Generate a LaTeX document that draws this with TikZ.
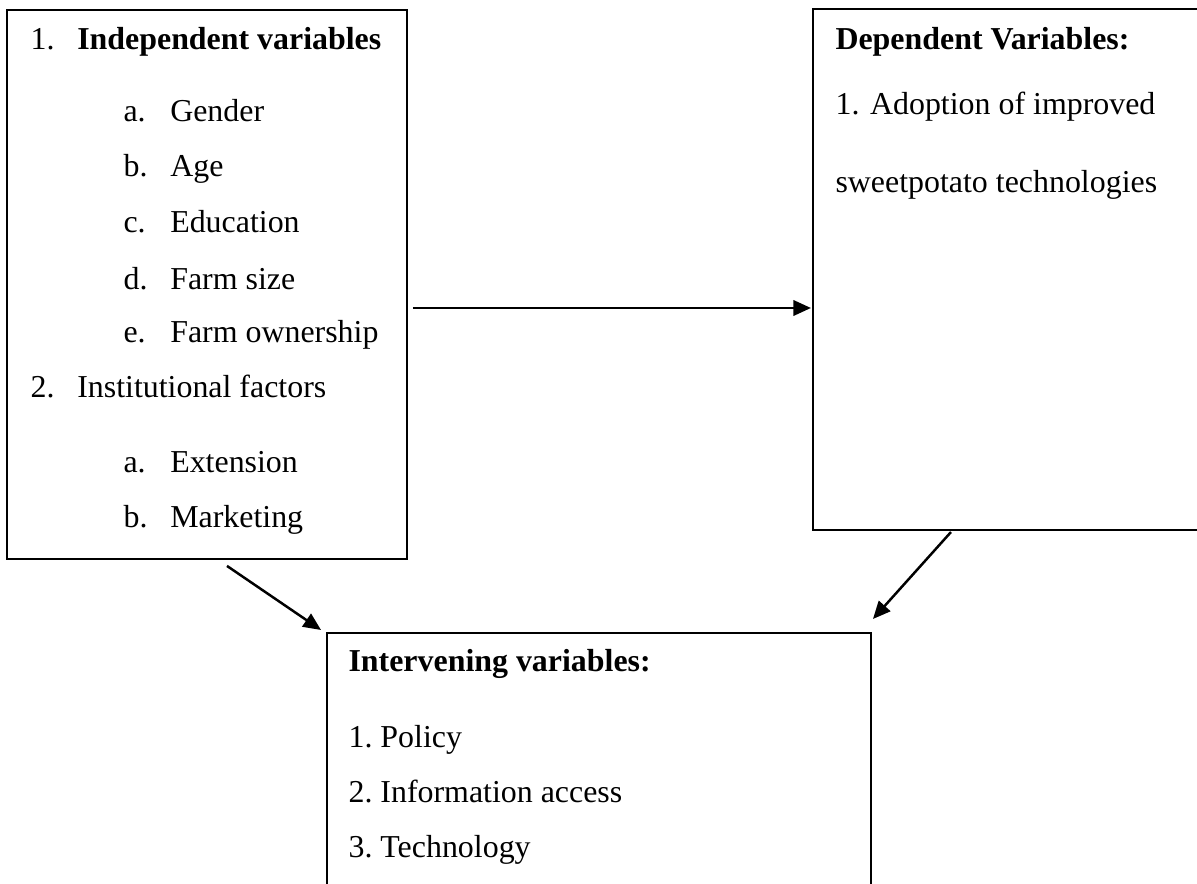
\documentclass[tikz,border=0pt]{standalone}
\usepackage{fontspec}
\setmainfont{Liberation Serif}
\usetikzlibrary{arrows.meta}

\newcommand\itemlbl[1]{\makebox[17pt][l]{#1}}

\begin{document}
\begin{tikzpicture}[x=0.3636pt,y=-0.3636pt,
  varbox/.style={draw,line width=0.7pt,rectangle,inner sep=0pt},
  item/.style={anchor=base west,inner sep=0pt,font=\fontsize{11.6}{14}\selectfont},
  arr/.style={-{Triangle[length=6.4pt,width=5.6pt]},line width=0.9pt}
]
  \useasboundingbox (0,0) rectangle (1197,884);

  % Boxes
  \node[varbox,minimum width=145.45pt,minimum height=199.6pt] (indep)  at (207,284.5) {};
  \node[varbox,minimum width=144.4pt,minimum height=189.5pt]  (dep)    at (1011.5,269.5) {};
  \node[varbox,minimum width=197.8pt,minimum height=97.1pt]   (interv) at (599,766.5) {};

  % Independent variables
  \node[item] (iv)   at (30,50)   {\itemlbl{1.}\textbf{Independent variables}};
  \node[item] (iva)  at (123,122) {\itemlbl{a.}Gender};
  \node[item] (ivb)  at (123,177) {\itemlbl{b.}Age};
  \node[item] (ivc)  at (123,233) {\itemlbl{c.}Education};
  \node[item] (ivd)  at (123,290) {\itemlbl{d.}Farm size};
  \node[item] (ive)  at (123,343) {\itemlbl{e.}Farm ownership};
  \node[item] (inst) at (30,398)  {\itemlbl{2.}Institutional factors};
  \node[item] (insa) at (123,473) {\itemlbl{a.}Extension};
  \node[item] (insb) at (123,528) {\itemlbl{b.}Marketing};

  % Dependent variables
  \node[item] (dv)  at (835,50)  {\textbf{Dependent Variables:}};
  \node[item] (dv1) at (835,115) {1. Adoption of improved};
  \node[item] (dv2) at (835,193) {sweetpotato technologies};

  % Intervening variables
  \node[item] (itv)  at (348,672) {\textbf{Intervening variables:}};
  \node[item] (itv1) at (348,748) {1.\ Policy};
  \node[item] (itv2) at (348,803) {2.\ Information access};
  \node[item] (itv3) at (348,858) {3.\ Technology};

  % Connectors
  \draw[arr] ([shift={(5,23.5)}]indep.east) -- ([shift={(-1,38.5)}]dep.west);
  \draw[arr] ([shift={(20,6)}]indep.south) -- ([shift={(-5,-2)}]interv.north west);
  \draw[arr] ([shift={(139,1)}]dep.south west) -- ([shift={(1,-13)}]interv.north east);
\end{tikzpicture}
\end{document}
